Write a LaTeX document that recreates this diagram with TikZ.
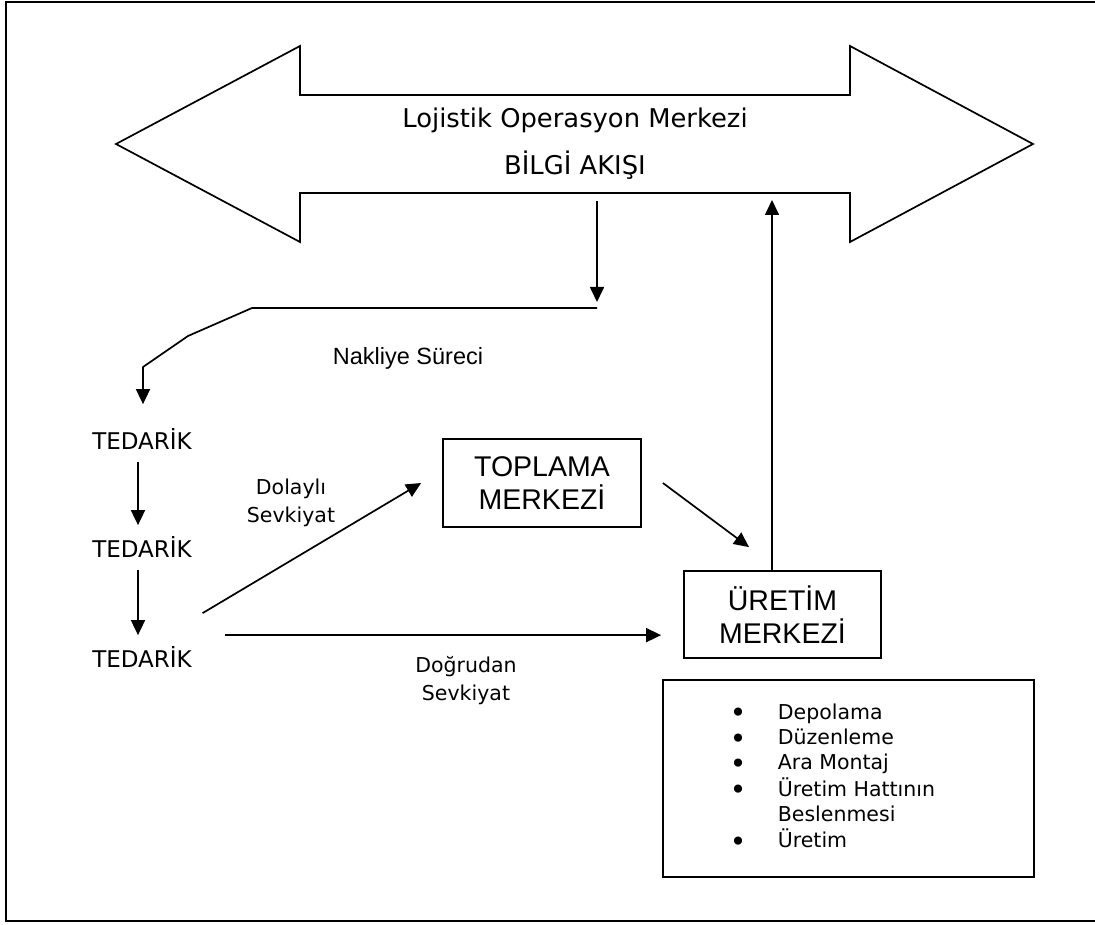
\documentclass[tikz,border=0pt]{standalone}
\usepackage{fontspec}
\setmainfont{DejaVu Sans}
\newfontfamily\arialfont{Liberation Sans}
\usetikzlibrary{arrows.meta}

\newcommand{\opsbullet}{\raisebox{-3.6pt}{\fontsize{28}{25.4}\selectfont •}}

\begin{document}
\begin{tikzpicture}[x=1pt,y=-1pt,
  line width=1.7pt,
  arr/.style={-{Triangle[length=15pt,width=14pt]}},
  box/.style={draw, rectangle, inner sep=0pt, align=center, line width=1.8pt},
  tahoma/.style={font=\fontsize{20.5}{28}\selectfont, align=center, inner sep=0pt},
  supplier/.style={font=\fontsize{23}{27}\selectfont, inner sep=0pt, anchor=base},
  centre/.style={font=\arialfont\fontsize{28.5}{33}\selectfont}
]
\useasboundingbox (0,0) rectangle (1095,925);

% outer frame (open towards the right edge)
\draw[line width=2.4pt] (1095,2) -- (6,2) -- (6,921) -- (1095,921);

% information flow: two-headed block arrow
\draw[line join=miter] (116,144) -- (300,46) -- (300,95) -- (850,95) -- (850,46)
  -- (1033,144) -- (850,242) -- (850,193) -- (300,193) -- (300,242) -- cycle;
\node[font=\fontsize{25.8}{47}\selectfont, align=center, inner sep=0pt] (hub) at (575,144)
  {Lojistik Operasyon Merkezi\\BİLGİ AKIŞI};

% suppliers
\node[supplier] (t1) at (142,449) {TEDARİK};
\node[supplier] (t2) at (142,557) {TEDARİK};
\node[supplier] (t3) at (142,667) {TEDARİK};

% centres
\node[box, centre, minimum width=198pt, minimum height=88pt] (coll) at (542,483) {TOPLAMA\\MERKEZİ};
\node[box, centre, minimum width=197pt, minimum height=87pt] (prod) at (782.5,614.5) {ÜRETİM\\MERKEZİ};

% activities of the production centre
\node[box, minimum width=371pt, minimum height=197pt] (ops) at (848.5,778.5) {};
\node[anchor=base west, inner sep=0pt, font=\fontsize{20.5}{25.4}\selectfont] (list) at (729,719)
  {\begin{tabular}[t]{@{}p{48pt}@{}l@{}}
   \opsbullet&Depolama\\
   \opsbullet&Düzenleme\\
   \opsbullet&Ara Montaj\\
   \opsbullet&Üretim Hattının\\
    &Beslenmesi\\
   \opsbullet&Üretim
   \end{tabular}};

% labels
\node[anchor=base, font=\arialfont\fontsize{23.5}{27}\selectfont, inner sep=0pt] (nak) at (408,364) {Nakliye Süreci};
\node[tahoma] (dol) at (291,503) {Dolaylı\\Sevkiyat};
\node[tahoma] (dog) at (466,681) {Doğrudan\\Sevkiyat};

% transport route from the operations centre to the first supplier
\coordinate (infoA) at (597,201);
\coordinate (infoB) at (597,302);
\coordinate (r0) at (597,308);
\coordinate (r1) at (252,308);
\coordinate (r2) at (188,336);
\coordinate (r3) at (143,367);
\draw[arr] (infoA) -- (infoB);
\draw[arr, line join=round] (r0) -- (r1) -- (r2) -- (r3) -- ([yshift=23pt]t1.north -| r3);

% supplier chain
\draw[arr] ([xshift=-4pt,yshift=-12pt]t1.south) -- ([xshift=-4pt,yshift=10pt]t2.north);
\draw[arr] ([xshift=-4pt,yshift=-12pt]t2.south) -- ([xshift=-4pt,yshift=10pt]t3.north);

% indirect and direct shipments
\draw[arr] ([xshift=10pt,yshift=32pt]t3.north east) -- ([xshift=-21pt]coll.west);
\coordinate (dstart) at ([xshift=32pt,yshift=10pt]t3.north east);
\draw[arr, shorten >=22pt] (dstart) -- (dstart -| prod.west);
\draw[arr] ([xshift=21pt]coll.east) -- ([xshift=-33.5pt,yshift=23pt]prod.north);

% feedback to the information flow
\coordinate (fb) at (772,200);
\draw[arr] (prod.north -| fb) -- (fb);
\end{tikzpicture}
\end{document}
